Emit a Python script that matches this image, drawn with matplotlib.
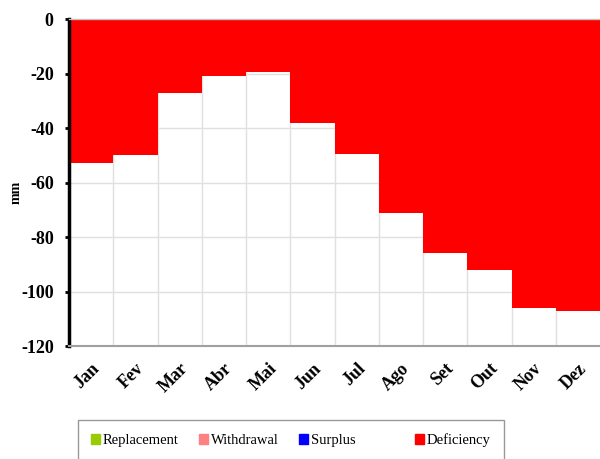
import numpy as np
import matplotlib.pyplot as plt
from matplotlib.patches import Patch

# Data
months = ["Jan", "Fev", "Mar", "Abr", "Mai", "Jun", "Jul", "Ago", "Set", "Out", "Nov", "Dez"]
deficiency = [-53, -50, -27, -21, -19.5, -38, -49.5, -71, -86, -92, -106, -107]

plt.rcParams['font.family'] = ['Liberation Serif', 'DejaVu Serif']

fig = plt.figure(figsize=(6, 4.59), dpi=100)
ax = fig.add_axes([0.115, 0.246, 0.885, 0.7126])

x = np.arange(len(months))
ax.bar(x, deficiency, width=1.0, align='edge', color='#FF0000', zorder=2)

ax.set_xlim(0, len(months))
ax.set_ylim(-120, 0)
ax.set_yticks(np.arange(-120, 1, 20))
ax.set_yticklabels([str(v) for v in range(-120, 1, 20)], fontsize=13, fontweight='bold')

# month labels centred, gridlines on boundaries
ax.set_xticks(x + 0.5)
ax.set_xticklabels(months, rotation=45, ha='right', rotation_mode='anchor',
                   fontsize=13, fontweight='bold')
ax.tick_params(axis='x', which='major', length=0, pad=10)
ax.set_xticks(np.arange(1, len(months)), minor=True)
ax.tick_params(axis='x', which='minor', top=True, bottom=False, direction='in',
               length=4, width=1, color='black')
ax.grid(True, which='minor', axis='x', color='#E0E0E0', lw=1, zorder=0)
ax.grid(True, which='major', axis='y', color='#E0E0E0', lw=1, zorder=0)
ax.set_axisbelow(True)

ax.tick_params(axis='y', direction='out', length=3, width=2, pad=8)
ax.spines['left'].set_linewidth(2.5)
ax.spines['left'].set_color('black')
ax.spines['bottom'].set_color('#A0A0A0')
ax.spines['bottom'].set_linewidth(1.5)
ax.spines['top'].set_color('#C0C0C0')
ax.spines['top'].set_linewidth(1)
ax.spines['right'].set_visible(False)

fig.text(16 / 600, 1 - 192 / 459, "mm", rotation=90, fontsize=10, fontweight='bold',
         ha='center', va='center')

handles = [Patch(color='#99CC00', label='Replacement'),
           Patch(color='#FF8080', label='Withdrawal'),
           Patch(color='#0000FF', label='Surplus'),
           Patch(color='none', label='  '),
           Patch(color='#FF0000', label='Deficiency')]
leg = fig.legend(handles=handles, ncol=5, loc='upper left',
                 bbox_to_anchor=(0.13, 1 - 420 / 459), borderaxespad=0, fontsize=10.5,
                 handlelength=0.6, handleheight=0.7, handletextpad=0.2,
                 columnspacing=1.4, frameon=True, fancybox=False,
                 borderpad=0.9, edgecolor='#808080')
leg.get_frame().set_linewidth(1)

fig.savefig("out.png", dpi=100)
